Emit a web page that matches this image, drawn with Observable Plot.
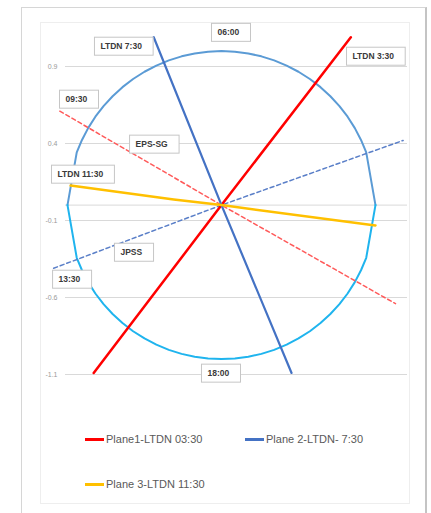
<!DOCTYPE html>
<html>
<head>
<meta charset="utf-8">
<script src="https://cdn.jsdelivr.net/npm/d3@7"></script>
<script src="https://cdn.jsdelivr.net/npm/@observablehq/plot@0.6"></script>
<style>
  body { margin: 0; background: #fff; }
  #wrap { position: relative; width: 431px; height: 513px; overflow: hidden; font-family: "Liberation Sans", Arial, sans-serif; }
  #outer { position: absolute; left: 21px; top: 7px; width: 406px; height: 530px; border: 1px solid #d6d6d6; border-right: 2px solid #c4c4c4; box-sizing: border-box; }
  #inner { position: absolute; left: 40px; top: 22px; width: 370px; height: 482px; border: 1px solid #eeeeee; box-sizing: border-box; }
  #chart { position: absolute; left: 0; top: 0; }
  .leg { position: absolute; height: 14px; font-size: 11px; line-height: 14px; color: #595959; display: flex; align-items: center; white-space: nowrap; }
  .sw { width: 19px; height: 3px; margin-right: 2px; }
</style>
</head>
<body>
<div id="wrap">
  <div id="outer"></div>
  <div id="inner"></div>
  <div id="chart"></div>
  <div id="legend"></div>
</div>
<script>
// ---- data ----
const circleTopX = [1, 0.94, 0.906, 0.866, 0.819, 0.766, 0.707, 0.643, 0.574, 0.5, 0.423, 0.342, 0.259, 0.174, 0.087, 0,
  -0.087, -0.174, -0.259, -0.342, -0.423, -0.5, -0.574, -0.643, -0.707, -0.766, -0.819, -0.866, -0.906, -0.94, -1];
const circleTopY = [0, 0.342, 0.423, 0.5, 0.574, 0.643, 0.707, 0.766, 0.819, 0.866, 0.906, 0.94, 0.966, 0.985, 0.996, 1,
  0.996, 0.985, 0.966, 0.94, 0.906, 0.866, 0.819, 0.766, 0.707, 0.643, 0.574, 0.5, 0.423, 0.342, 0];
const circleBottomX = [-1, -0.94, -0.906, -0.866, -0.819, -0.766, -0.707, -0.643, -0.574, -0.5, -0.423, -0.342, -0.259, -0.174, -0.087, 0,
  0.087, 0.174, 0.259, 0.342, 0.423, 0.5, 0.574, 0.643, 0.707, 0.766, 0.819, 0.866, 0.906, 0.94, 1];
const circleBottomY = [0, -0.342, -0.423, -0.5, -0.574, -0.643, -0.707, -0.766, -0.819, -0.866, -0.906, -0.94, -0.966, -0.985, -0.996, -1,
  -0.996, -0.985, -0.966, -0.94, -0.906, -0.866, -0.819, -0.766, -0.707, -0.643, -0.574, -0.5, -0.423, -0.342, 0];

const plane1X = [-0.83, 0, 0.84];
const plane1Y = [-1.09, 0, 1.09];
const plane2X = [-0.44, 0, 0.455];
const plane2Y = [1.09, 0, -1.09];
const plane3X = [-0.98, -0.31, 0, 1.0];
const plane3Y = [0.127, 0.036, 0, -0.132];
const epsX = [-1.05, 0, 1.13];
const epsY = [0.61, 0, -0.64];
const jpssX = [-1.09, 0, 1.18];
const jpssY = [-0.41, 0, 0.42];

const labelText = ["06:00", "LTDN 7:30", "LTDN 3:30", "09:30", "EPS-SG", "LTDN 11:30", "JPSS", "13:30", "18:00"];
const labelX = [-0.026, -0.786, 0.851, -1.013, -0.558, -1.065, -0.656, -1.058, -0.091];
const labelY = [1.12, 1.03, 0.965, 0.686, 0.394, 0.199, -0.308, -0.483, -1.093];

const yTicks = [0.9, 0.4, -0.1, -0.6, -1.1];
const yTickLabels = ["0.9", "0.4", "-0.1", "-0.6", "-1.1"];

const legendNames = ["Plane1-LTDN 03:30", "Plane 2-LTDN- 7:30", "Plane 3-LTDN 11:30"];
const legendColors = ["#ff0000", "#4472c4", "#ffc000"];

// ---- build ----
const rows = (xs, ys) => xs.map((x, i) => ({x, y: ys[i]}));
const labels = labelText.map((t, i) => ({t, x: labelX[i], y: labelY[i]}));

const plot = Plot.plot({
  width: 431,
  height: 400,
  marginLeft: 65,
  marginRight: 24,
  marginTop: 0,
  marginBottom: 0,
  style: {background: "transparent", overflow: "visible", fontFamily: "Liberation Sans, Arial, sans-serif"},
  x: {domain: [-1.013, 1.208], axis: null},
  y: {domain: [-1.2688, 1.3286], axis: null},
  marks: [
    Plot.gridY(yTicks, {stroke: "#d9d9d9", strokeOpacity: 1}),
    Plot.ruleY([0], {stroke: "#d9d9d9"}),
    Plot.axisY(yTicks, {tickSize: 0, tickPadding: 8, fontSize: 7, fill: "#9a9a9a", label: null,
      tickFormat: d => yTickLabels[yTicks.indexOf(d)]}),
    Plot.line(rows(circleTopX, circleTopY), {x: "x", y: "y", stroke: "#5b9bd5", strokeWidth: 2, curve: "linear"}),
    Plot.line(rows(circleBottomX, circleBottomY), {x: "x", y: "y", stroke: "#1fb4ee", strokeWidth: 2, curve: "linear"}),
    Plot.line(rows(epsX, epsY), {x: "x", y: "y", stroke: "#ff5a5a", strokeWidth: 1.5, strokeDasharray: "4,3"}),
    Plot.line(rows(jpssX, jpssY), {x: "x", y: "y", stroke: "#5a7fc8", strokeWidth: 1.5, strokeDasharray: "4,3"}),
    Plot.line(rows(plane1X, plane1Y), {x: "x", y: "y", stroke: legendColors[0], strokeWidth: 2.5}),
    Plot.line(rows(plane2X, plane2Y), {x: "x", y: "y", stroke: legendColors[1], strokeWidth: 2.2}),
    Plot.line(rows(plane3X, plane3Y), {x: "x", y: "y", stroke: legendColors[2], strokeWidth: 2.5}),
    Plot.text(labels, {x: "x", y: "y", text: "t", textAnchor: "start", fontSize: 8.5, fill: "#3a3a3a", fontWeight: 600})
  ]
});
document.getElementById("chart").appendChild(plot);

// boxes behind the labels, sized from the text itself
const svg = plot.tagName.toLowerCase() === "svg" ? plot : plot.querySelector("svg");
const labelSet = new Set(labelText);
Array.from(svg.querySelectorAll("text")).filter(t => labelSet.has(t.textContent)).forEach(t => {
  const b = t.getBBox();
  const cy = b.y + b.height / 2;
  const r = document.createElementNS("http://www.w3.org/2000/svg", "rect");
  r.setAttribute("x", b.x - 6);
  r.setAttribute("y", cy - 9);
  r.setAttribute("width", b.width + 17);
  r.setAttribute("height", 18);
  r.setAttribute("fill", "#ffffff");
  r.setAttribute("stroke", "#c6c6c6");
  r.setAttribute("stroke-width", 1);
  if (t.getAttribute("transform")) r.setAttribute("transform", t.getAttribute("transform"));
  t.parentNode.insertBefore(r, t);
});

// legend below the chart
const legendPos = [[85, 432], [245, 432], [85, 477]];
const leg = document.getElementById("legend");
legendNames.forEach((name, i) => {
  const d = document.createElement("div");
  d.className = "leg";
  d.style.left = legendPos[i][0] + "px";
  d.style.top = legendPos[i][1] + "px";
  const sw = document.createElement("div");
  sw.className = "sw";
  sw.style.background = legendColors[i];
  d.appendChild(sw);
  const s = document.createElement("span");
  s.textContent = name;
  d.appendChild(s);
  leg.appendChild(d);
});
</script>
</body>
</html>
